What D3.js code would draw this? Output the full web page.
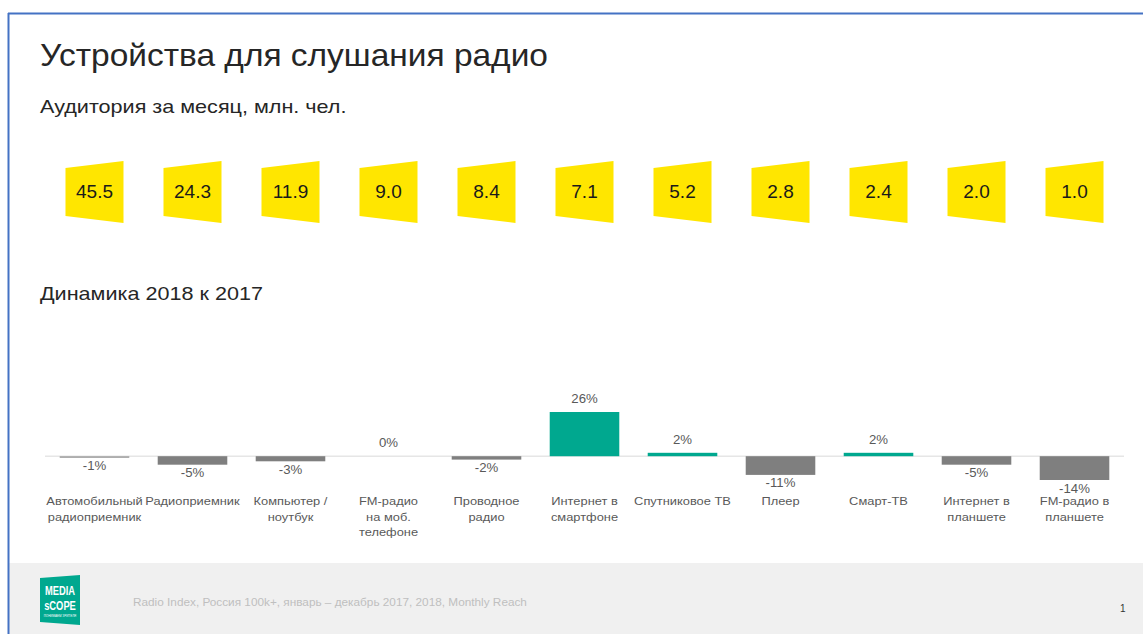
<!DOCTYPE html>
<html><head><meta charset="utf-8">
<script src="https://cdn.jsdelivr.net/npm/d3@7"></script>
<style>
html,body{margin:0;padding:0;background:#fff;}
svg{display:block;font-family:"Liberation Sans",Arial,sans-serif;}
</style></head>
<body>
<svg id="c" width="1143" height="634"></svg>
<script>
const categories = [
  ["Автомобильный","радиоприемник"],
  ["Радиоприемник"],
  ["Компьютер /","ноутбук"],
  ["FM-радио","на моб.","телефоне"],
  ["Проводное","радио"],
  ["Интернет в","смартфоне"],
  ["Спутниковое ТВ"],
  ["Плеер"],
  ["Смарт-ТВ"],
  ["Интернет в","планшете"],
  ["FM-радио в","планшете"]
];
const audience = [45.5, 24.3, 11.9, 9.0, 8.4, 7.1, 5.2, 2.8, 2.4, 2.0, 1.0];
const dynamics = [-1, -5, -3, 0, -2, 26, 2, -11, 2, -5, -14];

const svg = d3.select("#c");
const W = 1143, H = 634;

// helper: horizontally stretched text
function stext(parent, x, y, size, sx, anchor, fill, txt){
  const t = parent.append("text")
    .attr("transform",`translate(${x},${y}) scale(${sx},1)`)
    .attr("font-size",size).attr("fill",fill).attr("text-anchor",anchor||"start");
  if (txt !== undefined) t.text(txt);
  return t;
}

// slide frame
svg.append("rect").attr("x",0).attr("y",0).attr("width",W).attr("height",H).attr("fill","#fff");
svg.append("rect").attr("x",9).attr("y",563).attr("width",W-9).attr("height",H-563).attr("fill","#f0f0f0");
svg.append("line").attr("x1",8).attr("x2",W).attr("y1",13.5).attr("y2",13.5).attr("stroke","#4472c4").attr("stroke-width",2);
svg.append("line").attr("x1",8.5).attr("x2",8.5).attr("y1",13).attr("y2",H).attr("stroke","#4472c4").attr("stroke-width",2);

// titles
stext(svg, 40, 66, 31, 1.08, "start", "#262626", "Устройства для слушания радио");
stext(svg, 40, 113, 18, 1.2, "start", "#262626", "Аудитория за месяц, млн. чел.");
stext(svg, 40, 300, 18, 1.2, "start", "#262626", "Динамика 2018 к 2017");

const idx = categories.map((d,i)=>i);
const x = d3.scaleBand().domain(idx).range([45, 1124]).paddingInner(0.29).paddingOuter(0.15);
const cx = i => x(i) + x.bandwidth()/2;

// audience boxes (trapezoids)
const bg = svg.append("g").selectAll("g").data(audience).join("g")
  .attr("transform",(d,i)=>`translate(${cx(i)},0)`);
bg.append("path").attr("fill","#ffe600")
  .attr("d","M-29,168 L29,161 L29,223 L-29,216 Z");
bg.append("text").attr("y",198).attr("text-anchor","middle").attr("font-size",19).attr("fill","#1a1a1a")
  .text(d=>d.toFixed(1));

// bar chart
const y = d3.scaleLinear().domain([-14, 26]).range([480, 412]);
const g = svg.append("g");
g.append("line").attr("x1",45).attr("x2",1124).attr("y1",y(0)).attr("y2",y(0)).attr("stroke","#e6e6e6").attr("stroke-width",1.5);
g.selectAll("rect.bar").data(dynamics).join("rect").attr("class","bar")
  .attr("x",(d,i)=>x(i)).attr("width",x.bandwidth())
  .attr("y",d=>y(Math.max(0,d)))
  .attr("height",d=>Math.abs(y(d)-y(0)))
  .attr("fill",d=>d>0?"#00a88f":(d===-1?"#a6a6a6":"#7f7f7f"));
dynamics.forEach((d,i)=>{
  const yy = d>=0 ? y(d)-9 : y(d)+12.5;
  stext(g, cx(i), yy, 12, 1.1, "middle", "#595959", d+"%");
});

categories.forEach((lines,i)=>{
  lines.forEach((ln,j)=>{
    stext(g, cx(i), 505 + j*15.5, 11, 1.17, "middle", "#595959", ln);
  });
});

// footer
const logo = svg.append("g").attr("transform","translate(40,575)");
logo.append("path").attr("d","M0,3 L40,0 L40,50 L0,47 Z").attr("fill","#00a88f");
stext(logo, 20, 20, 13, 0.72, "middle", "#fff", "MEDIA").attr("font-weight","bold");
stext(logo, 20, 35, 13, 0.72, "middle", "#fff", "sCOPE").attr("font-weight","bold");
logo.append("text").attr("x",20).attr("y",42).attr("text-anchor","middle").attr("font-size",3).attr("fill","#fff").text("ПОНИМАЕМ ЗРИТЕЛЯ");
stext(svg, 133, 606, 10, 1.18, "start", "#bfbfbf", "Radio Index, Россия 100k+, январь – декабрь 2017, 2018, Monthly Reach");
svg.append("text").attr("x",1120).attr("y",612).attr("font-size",10).attr("fill","#333").text("1");
</script>
</body></html>
